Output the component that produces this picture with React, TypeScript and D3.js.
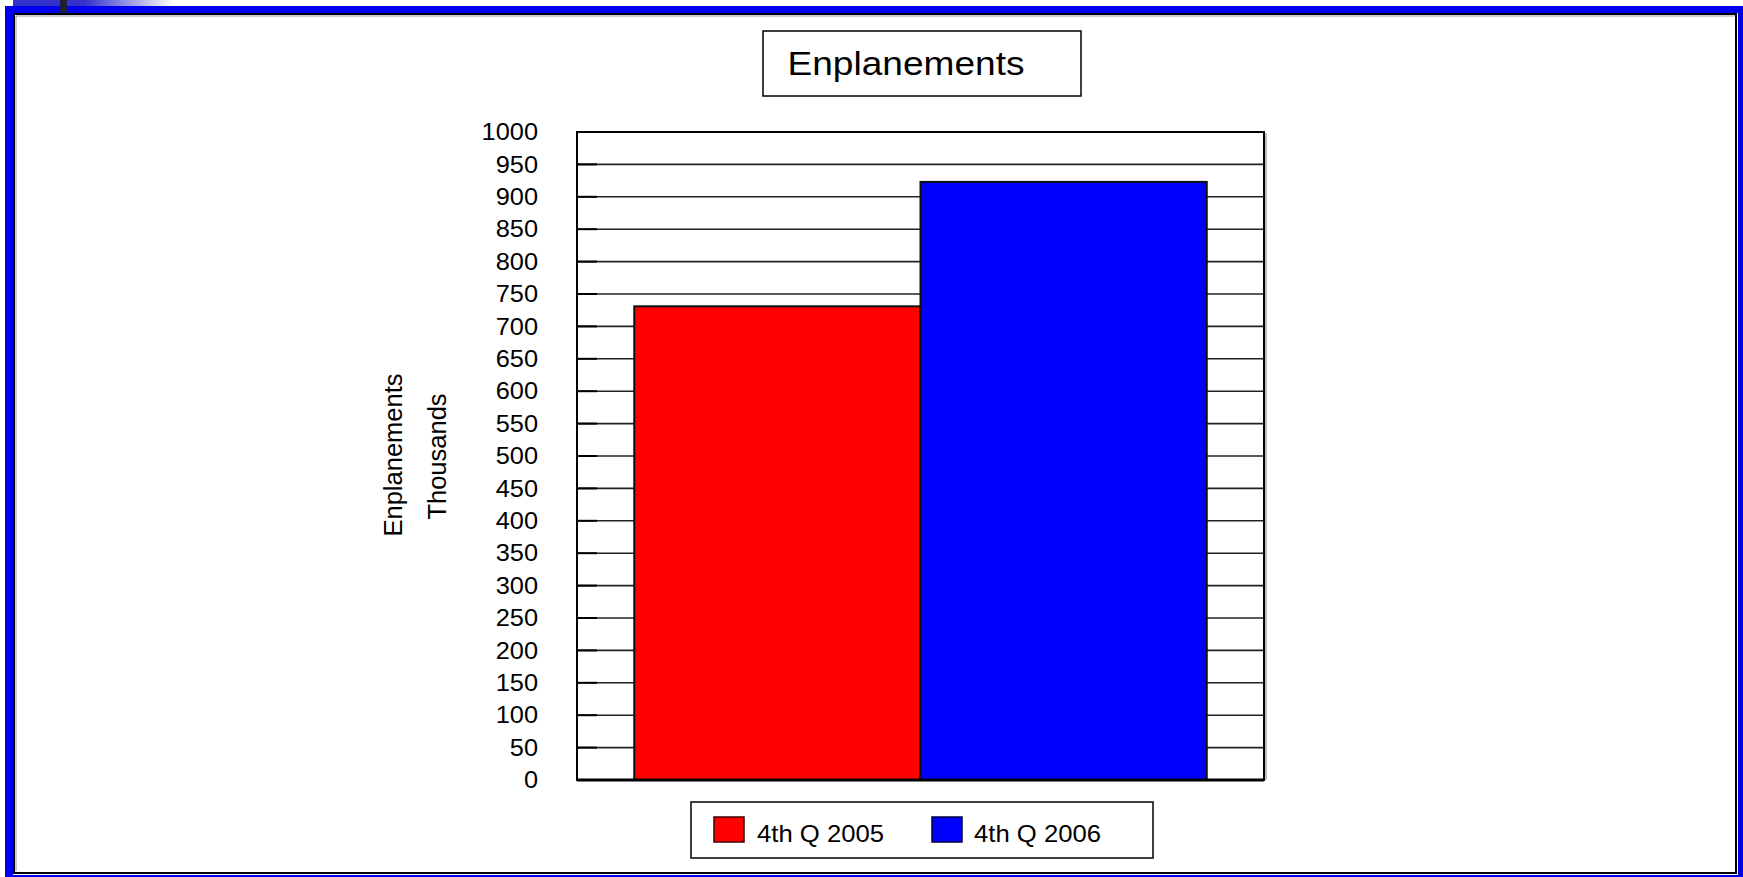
import React from "react";
import * as d3 from "d3";

// Quarterly enplanements, in thousands
const categories: string[] = ["4th Q"];
const seriesNames: string[] = ["4th Q 2005", "4th Q 2006"];
const seriesValues: number[] = [731, 923];
const seriesColors: string[] = ["#ff0000", "#0000ff"];
const yTicks: number[] = [0, 50, 100, 150, 200, 250, 300, 350, 400, 450, 500, 550, 600, 650, 700, 750, 800, 850, 900, 950, 1000];

const W = 1743;
const H = 877;
const FONT = "'Liberation Sans', Arial, Helvetica, sans-serif";

const plot = { left: 577, right: 1264, top: 132, bottom: 780 };
const tickLabelX = 538;

export default function App() {
  const y = d3.scaleLinear().domain([0, 1000]).range([plot.bottom, plot.top]);
  const xOuter = d3
    .scaleBand<string>()
    .domain(categories)
    .range([plot.left, plot.right])
    .paddingOuter(0.1)
    .paddingInner(0);
  const xInner = d3
    .scaleBand<string>()
    .domain(seriesNames)
    .range([0, xOuter.bandwidth()])
    .padding(0);

  const legendSwatchX = [714, 932];
  const legendTextX = [757, 974];

  return (
    <svg
      width={W}
      height={H}
      style={{ position: "absolute", left: 0, top: 0, display: "block" }}
      fontFamily={FONT}
    >
      <defs>
        <linearGradient id="topFade" x1="0" x2="1" y1="0" y2="0">
          <stop offset="0" stopColor="#3333cc" />
          <stop offset="0.45" stopColor="#3333cc" />
          <stop offset="1" stopColor="#ffffff" />
        </linearGradient>
      </defs>
      <rect x={0} y={0} width={W} height={H} fill="#ffffff" />

      {/* slide header strip */}
      <rect x={13} y={0} width={160} height={6} fill="url(#topFade)" />

      {/* blue outer frame */}
      <rect x={5} y={6} width={W - 5} height={7} fill="#0000ee" />
      <rect x={5} y={6} width={8} height={H - 6} fill="#0000ee" />
      <rect x={1738} y={6} width={5} height={H - 6} fill="#0000ee" />
      <rect x={5} y={875} width={W - 5} height={2} fill="#0000ee" />
      <rect x={60} y={0} width={7} height={14} fill="#1f1f3a" />

      {/* inner chart frame */}
      <rect x={14} y={14} width={1722} height={859} fill="#ffffff" stroke="#000" strokeWidth={2} />
      <line x1={16} x2={1735} y1={16} y2={16} stroke="#999" strokeWidth={1} />
      <line x1={16} x2={16} y1={16} y2={871} stroke="#999" strokeWidth={1} />

      {/* title */}
      <rect x={763} y={31} width={318} height={65} fill="#fff" stroke="#000" strokeWidth={1.5} />
      <text
        x={906}
        y={75}
        textAnchor="middle"
        fontSize={34}
        textLength={237}
        lengthAdjust="spacingAndGlyphs"
        fill="#000"
      >
        Enplanements
      </text>

      {/* plot area */}
      <rect
        x={plot.left}
        y={plot.top}
        width={plot.right - plot.left}
        height={plot.bottom - plot.top}
        fill="#fff"
      />
      <line x1={plot.right + 2} x2={plot.right + 2} y1={plot.top + 1} y2={plot.bottom} stroke="#aaa" strokeWidth={1.5} />

      {/* gridlines */}
      {yTicks.map((t) => (
        <line
          key={`g${t}`}
          x1={plot.left}
          x2={plot.right}
          y1={y(t)}
          y2={y(t)}
          stroke="#222"
          strokeWidth={1.6}
        />
      ))}

      {/* bars */}
      {categories.map((c) => (
        <g key={c} transform={`translate(${xOuter(c)},0)`}>
          {seriesNames.map((s, i) => (
            <rect
              key={s}
              x={xInner(s)}
              y={y(seriesValues[i])}
              width={xInner.bandwidth()}
              height={y(0) - y(seriesValues[i])}
              fill={seriesColors[i]}
              stroke="#111"
              strokeWidth={2}
            />
          ))}
        </g>
      ))}

      {/* frame and axis */}
      <rect
        x={plot.left}
        y={plot.top}
        width={plot.right - plot.left}
        height={plot.bottom - plot.top}
        fill="none"
        stroke="#000"
        strokeWidth={2}
      />
      <line x1={plot.left} x2={plot.right} y1={plot.bottom} y2={plot.bottom} stroke="#000" strokeWidth={3} />

      {/* y ticks and labels */}
      {yTicks.map((t) => (
        <line key={`tk${t}`} x1={plot.left} x2={plot.left + 20} y1={y(t)} y2={y(t)} stroke="#000" strokeWidth={2} />
      ))}
      <g transform={`translate(${tickLabelX},0) scale(1.08,1)`}>
        {yTicks.map((t) => (
          <text
            key={`t${t}`}
            x={0}
            y={y(t)}
            dy="0.35em"
            textAnchor="end"
            fontSize={23.5}
            fill="#000"
          >
            {t}
          </text>
        ))}
      </g>

      {/* y axis title */}
      <text
        transform="translate(402,455) rotate(-90)"
        textAnchor="middle"
        fontSize={25.5}
        fill="#000"
      >
        Enplanements
      </text>
      <text
        transform="translate(446,456.5) rotate(-90)"
        textAnchor="middle"
        fontSize={25.5}
        fill="#000"
      >
        Thousands
      </text>

      {/* legend */}
      <rect x={691} y={802} width={462} height={56} fill="#fff" stroke="#000" strokeWidth={1.5} />
      {seriesNames.map((s, i) => (
        <g key={`l${s}`}>
          <rect
            x={legendSwatchX[i]}
            y={817}
            width={30}
            height={25}
            fill={seriesColors[i]}
            stroke={i === 0 ? "#400000" : "#000040"}
            strokeWidth={1.5}
          />
          <text
            transform={`translate(${legendTextX[i]},842) scale(1.07,1)`}
            fontSize={24}
            fill="#000"
          >
            {s}
          </text>
        </g>
      ))}
    </svg>
  );
}
